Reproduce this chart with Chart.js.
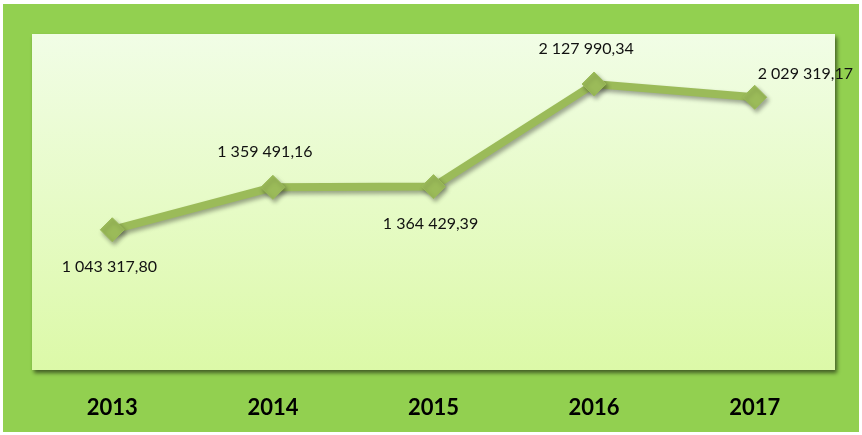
<!DOCTYPE html>
<html>
<head>
<meta charset="utf-8">
<title>Grafico</title>
<script src="https://cdn.jsdelivr.net/npm/chart.js@4"></script>
<style>
  html, body { margin: 0; padding: 0; background: #ffffff; }
  #caja { width: 862px; height: 435px; }
</style>
</head>
<body>
<div id="caja"><canvas id="myChart" width="862" height="435"></canvas></div>
<script>
//* Datos
var anios = ["2013", "2014", "2015", "2016", "2017"];
var valores = [1043317.80, 1359491.16, 1364429.39, 2127990.34, 2029319.17];
// donde va cada etiqueta respecto al punto
var posEtiquetas = ["below", "above", "below", "above", "right"];

// formato 1 043 317,80
function formato(v) {
  var partes = v.toFixed(2).split(".");
  var entero = partes[0].replace(/\B(?=(\d{3})+(?!\d))/g, " ");
  return entero + "," + partes[1];
}

// Fondo verde y panel con degradado
var fondo = {
  id: "fondo",
  beforeDraw: function (chart) {
    var ctx = chart.ctx;
    var a = chart.chartArea;
    ctx.save();
    ctx.fillStyle = "#ffffff";
    ctx.fillRect(0, 0, chart.width, chart.height);
    ctx.fillStyle = "#92d050";
    ctx.fillRect(3, 4, 856, 428);
    // sombra del panel
    ctx.shadowColor = "rgba(0,0,0,0.55)";
    ctx.shadowBlur = 4;
    ctx.shadowOffsetX = 2;
    ctx.shadowOffsetY = 3;
    var grad = ctx.createLinearGradient(0, a.top, 0, a.bottom);
    grad.addColorStop(0, "#f1fde6");
    grad.addColorStop(1, "#dcf9a8");
    ctx.fillStyle = grad;
    ctx.fillRect(a.left, a.top, a.right - a.left, a.bottom - a.top);
    ctx.restore();
  }
};

// sombra de la linea
var sombra = {
  id: "sombra",
  beforeDatasetsDraw: function (chart) {
    var ctx = chart.ctx;
    ctx.save();
    ctx.shadowColor = "rgba(0,0,0,0.35)";
    ctx.shadowBlur = 4;
    ctx.shadowOffsetX = 2;
    ctx.shadowOffsetY = 3;
  },
  afterDatasetsDraw: function (chart) {
    chart.ctx.restore();
  }
};

// Etiquetas de valores
var etiquetas = {
  id: "etiquetas",
  afterDatasetsDraw: function (chart) {
    var ctx = chart.ctx;
    var puntos = chart.getDatasetMeta(0).data;
    ctx.save();
    ctx.font = "16px Lato";
    ctx.fillStyle = "#111111";
    ctx.textBaseline = "middle";
    for (var i = 0; i < puntos.length; i++) {
      var p = puntos[i];
      var txt = formato(valores[i]);
      var pos = posEtiquetas[i];
      if (pos == "below") {
        ctx.textAlign = "center";
        ctx.fillText(txt, p.x - 3, p.y + 37);
      } else if (pos == "above") {
        ctx.textAlign = "center";
        ctx.fillText(txt, p.x - 8, p.y - 35);
      } else {
        ctx.textAlign = "left";
        ctx.fillText(txt, p.x + 3, p.y - 23);
      }
    }
    ctx.restore();
  }
};

document.addEventListener("DOMContentLoaded", function () {
  var ctx = document.getElementById("myChart");

  new Chart(ctx, {
    type: "line",
    data: {
      labels: anios,
      datasets: [{
        data: valores,
        borderColor: "#9bbb59",
        backgroundColor: "#9bbb59",
        borderWidth: 8,
        pointStyle: "rectRot",
        pointRadius: 12,
        pointBorderWidth: 1,
        pointBackgroundColor: "#9bbb59",
        pointBorderColor: "#9bbb59",
        tension: 0
      }]
    },
    options: {
      responsive: false,
      animation: false,
      layout: {
        padding: { left: 32, top: 34, right: 27, bottom: 0 }
      },
      plugins: {
        legend: { display: false },
        tooltip: { enabled: false }
      },
      scales: {
        x: {
          offset: true,
          grid: { display: false, drawTicks: false },
          border: { display: false },
          ticks: {
            padding: 25,
            color: "#000000",
            font: { family: "Lato", size: 22, weight: "bold" }
          },
          afterFit: function (scale) {
            scale.height = 65;
          }
        },
        y: {
          display: false,
          min: 0,
          max: 2500000
        }
      }
    },
    plugins: [fondo, sombra, etiquetas]
  });
});
</script>
</body>
</html>
